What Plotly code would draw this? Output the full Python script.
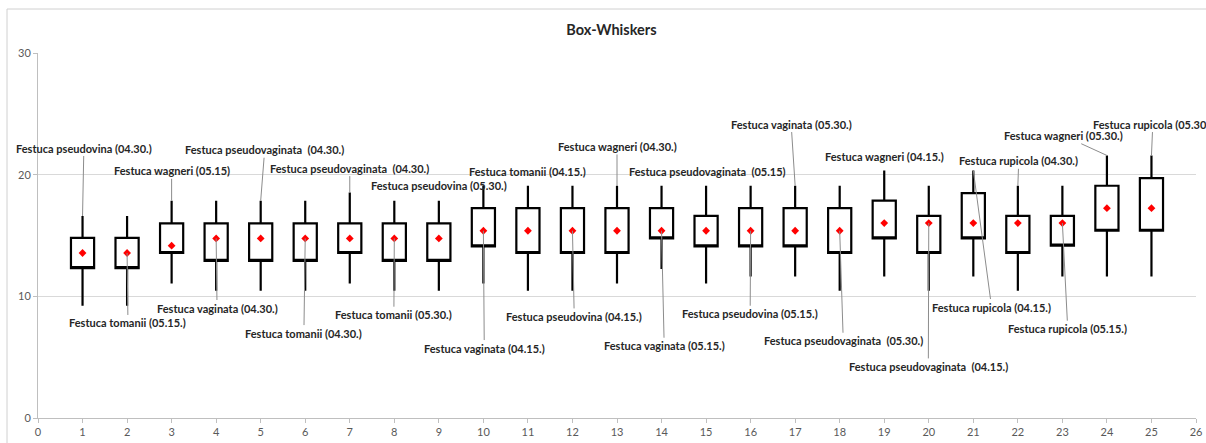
import plotly.graph_objects as go

# ---- data ----
positions = list(range(1, 26))
upper = [16.6, 16.6, 17.86, 17.86, 17.86, 17.86, 18.54, 17.86, 17.86, 19.09,
         19.09, 19.09, 19.09, 19.09, 19.09, 19.09, 19.09, 19.09, 20.35, 19.09,
         20.35, 19.09, 19.09, 21.58, 21.58]
q3 = [14.8, 14.8, 16.0, 16.0, 16.0, 16.0, 16.0, 16.0, 16.0, 17.25,
      17.25, 17.25, 17.25, 17.25, 16.62, 17.25, 17.25, 17.25, 17.86, 16.62,
      18.49, 16.62, 16.62, 19.09, 19.72]
q1 = [12.32, 12.32, 13.56, 12.92, 12.92, 12.92, 13.56, 12.92, 12.92, 14.1,
      13.56, 13.56, 13.56, 14.76, 14.1, 14.1, 14.1, 13.56, 14.76, 13.56,
      14.76, 13.56, 14.16, 15.39, 15.39]
lower = [9.23, 9.23, 11.05, 10.46, 10.46, 10.46, 11.05, 10.46, 10.46, 11.05,
         10.46, 10.46, 11.05, 12.24, 11.05, 11.64, 11.64, 10.46, 11.64, 10.46,
         11.64, 10.46, 11.64, 11.64, 11.64]
means = [13.56, 13.56, 14.16, 14.76, 14.76, 14.76, 14.76, 14.76, 14.76, 15.39,
         15.39, 15.39, 15.39, 15.39, 15.39, 15.39, 15.39, 15.39, 16.02, 16.02,
         16.02, 16.02, 16.02, 17.25, 17.25]
labels = [
    "Festuca pseudovina (04.30.)", "Festuca tomanii (05.15.)", "Festuca wagneri (05.15)",
    "Festuca vaginata (04.30.)", "Festuca pseudovaginata  (04.30.)", "Festuca tomanii (04.30.)",
    "Festuca pseudovaginata  (04.30.)", "Festuca tomanii (05.30.)", "Festuca pseudovina (05.30.)",
    "Festuca vaginata (04.15.)", "Festuca tomanii (04.15.)", "Festuca pseudovina (04.15.)",
    "Festuca wagneri (04.30.)", "Festuca vaginata (05.15.)", "Festuca pseudovaginata  (05.15)",
    "Festuca pseudovina (05.15.)", "Festuca vaginata (05.30.)", "Festuca pseudovaginata  (05.30.)",
    "Festuca wagneri (04.15.)", "Festuca pseudovaginata  (04.15.)", "Festuca rupicola (04.15.)",
    "Festuca rupicola (04.30.)", "Festuca rupicola (05.15.)", "Festuca wagneri (05.30.)",
    "Festuca rupicola (05.30.)",
]
x_ticks = list(range(0, 27))
y_ticks = [0, 10, 20, 30]

# ---- label placement (positions of the label texts, data units) ----
label_x = [1.03, 2.02, 3.0, 4.02, 5.09, 5.97, 7.0, 7.99, 9.0, 10.02, 11.0, 12.04, 13.0,
           14.06, 15.03, 15.99, 16.91, 18.08, 19.0, 19.99, 21.41, 22.02, 23.12, 23.03, 25.03]
label_y = [22.19, 7.81, 20.32, 9.04, 22.05, 6.98, 20.54, 8.49, 19.11, 5.75, 20.26, 8.35, 22.32,
           5.94, 20.26, 8.57, 24.16, 6.35, 21.5, 4.24, 9.12, 21.14, 7.34, 23.2, 24.16]
# which point of the box the leader line points to ('hi', 'mean', or None for no leader)
leader_to = ['hi', 'mean', 'hi', 'mean', 'hi', 'mean', 'hi', 'mean', None, 'mean', None, 'mean', 'hi',
             'mean', None, 'mean', 'hi', 'mean', None, 'mean', 'hi', 'hi', 'mean', 'hi', 'hi']

FONT = "Lato"
fig = go.Figure()
fig.add_trace(go.Box(
    x=positions, q1=q1, median=q1, q3=q3, lowerfence=lower, upperfence=upper,
    width=0.52, whiskerwidth=0, fillcolor="white",
    line=dict(color="black", width=2.2), boxpoints=False, showlegend=False,
    hoverinfo="skip",
))
fig.add_trace(go.Scatter(
    x=positions, y=means, mode="markers",
    marker=dict(symbol="diamond", color="#ff0000", size=6),
    showlegend=False, hoverinfo="skip",
))

annotations = []
for i, txt in enumerate(labels):
    kind = leader_to[i]
    base = dict(text="<b>%s</b>" % txt, font=dict(family=FONT, size=11, color="#262626"),
                xref="x", yref="y")
    if kind is None:
        annotations.append(dict(base, x=label_x[i], y=label_y[i], showarrow=False))
    else:
        tip = upper[i] if kind == 'hi' else means[i]
        annotations.append(dict(base, x=positions[i], y=tip, ax=label_x[i], ay=label_y[i],
                                axref="x", ayref="y", showarrow=True, arrowhead=0,
                                arrowwidth=1, arrowcolor="#8c8c8c", standoff=0,
                                startstandoff=0))

fig.update_layout(
    width=1206, height=443,
    margin=dict(l=38, r=10, t=53, b=25),
    paper_bgcolor="white", plot_bgcolor="white",
    title=dict(text="<b>Box-Whiskers</b>", x=0.507, xref="container", xanchor="center",
               y=1 - 30 / 443, yref="container", yanchor="middle",
               font=dict(family=FONT, size=14.5, color="#262626")),
    xaxis=dict(range=[0, 26], tickmode="array", tickvals=x_ticks, showgrid=False,
               zeroline=False, showline=True, linecolor="#bfbfbf", linewidth=1,
               ticks="outside", ticklen=4, tickcolor="#bfbfbf", automargin=False,
               tickfont=dict(family=FONT, size=11, color="#595959")),
    yaxis=dict(range=[0, 30], tickmode="array", tickvals=y_ticks, showgrid=True,
               gridcolor="#d9d9d9", gridwidth=1, zeroline=False, showline=True,
               linecolor="#bfbfbf", linewidth=1, ticks="outside", ticklen=4, automargin=False,
               tickcolor="#bfbfbf", tickfont=dict(family=FONT, size=11, color="#595959")),
    annotations=annotations,
    shapes=[dict(type="rect", xref="paper", yref="paper",
                 x0=(7 - 38) / 1158, x1=1.2, y0=-0.5, y1=1 + (53 - 9) / 365,
                 line=dict(color="#d0d0d0", width=1), fillcolor="rgba(0,0,0,0)", layer="below")],
)

fig.write_html("out.html", config={"displayModeBar": False},
               post_script="document.body.style.margin='0px';document.body.style.overflow='hidden';")
